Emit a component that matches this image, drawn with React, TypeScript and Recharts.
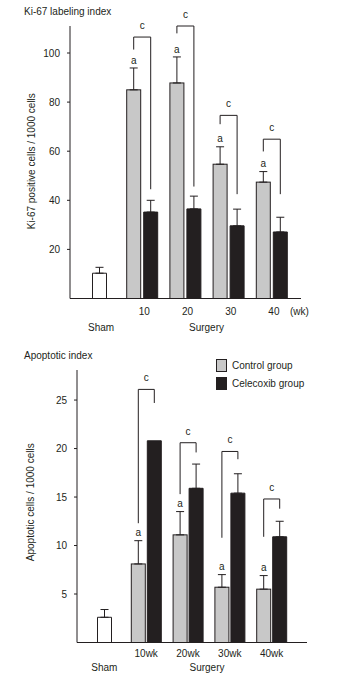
import React from "react";
import { BarChart, Bar, XAxis, YAxis, ErrorBar, Legend } from "recharts";

const FONT = "'Liberation Sans', Arial, sans-serif";
const INK = "#231f20";
const GREY = "#c8c8c8";

const groups = ["Sham", "10", "20", "30", "40"];
const legendOrder = ["Control group", "Celecoxib group"];

// Ki-67 labeling index (positive cells / 1000 cells)
const kiSham = [10.3, null, null, null, null];
const kiShamSd = [2.4, null, null, null, null];
const kiControl = [null, 85, 87.8, 54.7, 47.4];
const kiControlSd = [null, 8.9, 10.6, 7.1, 4.3];
const kiCelecoxib = [null, 35.2, 36.5, 29.6, 27.1];
const kiCelecoxibSd = [null, 4.8, 5.2, 6.8, 6.0];
// "c" brackets: top, end of left leg, end of right leg
const kiBracketTop = [null, 106.5, 111, 74.6, 64.9];
const kiBracketLeft = [null, 101.4, 108, 71, 59.9];
const kiBracketRight = [null, 44.5, 45.6, 42.5, 42.5];
const kiTicks = [20, 40, 60, 80, 100];

// Apoptotic index (apoptotic cells / 1000 cells)
const apSham = [2.6, null, null, null, null];
const apShamSd = [0.8, null, null, null, null];
const apControl = [null, 8.1, 11.1, 5.7, 5.5];
const apControlSd = [null, 2.4, 2.4, 1.3, 1.4];
const apCelecoxib = [null, 20.8, 15.9, 15.4, 10.9];
const apCelecoxibSd = [null, null, 2.5, 2.0, 1.6];
const apBracketTop = [null, 26.1, 20.6, 19.7, 14.8];
const apBracketLeft = [null, 12.3, 15.3, 10.8, 10.9];
const apBracketRight = [null, 24.7, 19.6, 18.9, 13.8];
const apTicks = [5, 10, 15, 20, 25];

type Num = number | null;

function upOnly(sd: Num) {
  // error bars only go up from the bar top
  return sd == null ? null : [0, sd];
}

function buildRows(
  sham: Num[], shamSd: Num[], control: Num[], controlSd: Num[],
  cel: Num[], celSd: Num[], top: Num[], left: Num[], right: Num[],
) {
  return groups.map((group, i) => ({
    group,
    sham: sham[i],
    shamErr: upOnly(shamSd[i]),
    control: control[i],
    controlErr: upOnly(controlSd[i]),
    celecoxib: cel[i],
    celecoxibErr: upOnly(celSd[i]),
    bracket: top[i] == null ? null : { top: top[i], left: left[i], right: right[i] },
  }));
}

const kiRows = buildRows(kiSham, kiShamSd, kiControl, kiControlSd, kiCelecoxib, kiCelecoxibSd,
  kiBracketTop, kiBracketLeft, kiBracketRight);
const apRows = buildRows(apSham, apShamSd, apControl, apControlSd, apCelecoxib, apCelecoxibSd,
  apBracketTop, apBracketLeft, apBracketRight);

const textStyle = { fontFamily: FONT, fontSize: 10, fill: INK };

// grey bar + "a" mark + "c" bracket over to the celecoxib bar
function ControlShape(props: any) {
  const { x, y, width, height, payload, gap } = props;
  if (!payload || payload.control == null || !height) return null;
  const v = payload.control;
  const k = height / v;
  const yOf = (val: number) => y + height - val * k;
  const cx = x + width / 2;
  const cx2 = cx + width + gap;
  const errTop = yOf(v + (payload.controlErr ? payload.controlErr[1] : 0));
  const b = payload.bracket;
  return (
    <g>
      <rect x={x} y={y} width={width} height={height} fill={GREY} stroke={INK} strokeWidth={1} />
      <text x={cx} y={errTop - 4.4} textAnchor="middle" {...textStyle}>a</text>
      {b && (
        <g>
          <path d={`M${cx},${yOf(b.left)}V${yOf(b.top)}H${cx2}V${yOf(b.right)}`}
            fill="none" stroke={INK} strokeWidth={1} />
          <text x={(cx + cx2) / 2} y={yOf(b.top) - 8} textAnchor="middle" {...textStyle}>c</text>
        </g>
      )}
    </g>
  );
}

function GroupTick(props: any) {
  const { x, y, payload, spec } = props;
  const v = String(payload.value);
  const common = { ...textStyle, dominantBaseline: "central" as const };
  if (v === "Sham") {
    return <text x={x + spec.tickDx} y={y + spec.line2} textAnchor="middle" {...common}>Sham</text>;
  }
  return (
    <g>
      <text x={x + spec.tickDx} y={y + spec.line1} textAnchor="middle" {...common}>{v + spec.unit}</text>
      {v === "20" && (
        <text x={x + spec.surgeryDx} y={y + spec.line2} textAnchor="middle" {...common}>Surgery</text>
      )}
      {spec.wk && v === "40" && (
        <text x={x + spec.tickDx + 16} y={y + spec.line1} textAnchor="start" {...common}>(wk)</text>
      )}
    </g>
  );
}

function SideTitle(props: any) {
  const vb = props.viewBox ?? props;
  const cx = props.cx;
  const cy = vb.y + vb.height / 2 + (props.shift ?? 0);
  return (
    <text x={cx} y={cy} transform={`rotate(-90 ${cx} ${cy})`} textAnchor="middle"
      dominantBaseline="central" {...textStyle}>
      {props.value}
    </text>
  );
}

function GroupLegend({ payload }: any) {
  const items = (payload ?? [])
    .filter((p: any) => legendOrder.includes(p.value))
    .sort((a: any, b: any) => legendOrder.indexOf(a.value) - legendOrder.indexOf(b.value));
  return (
    <div style={{ fontFamily: FONT, fontSize: 10, color: INK }}>
      {items.map((item: any) => (
        <div key={item.value} style={{ display: "flex", alignItems: "center", height: 18 }}>
          <span style={{
            display: "inline-block", width: 11, height: 12.5, boxSizing: "border-box",
            border: `1px solid ${INK}`, background: item.color, marginRight: 5,
          }} />
          <span>{item.value}</span>
        </div>
      ))}
    </div>
  );
}

function GroupChart({ spec }: { spec: any }) {
  return (
    <BarChart
      width={352}
      height={spec.height}
      data={spec.rows}
      margin={{ top: spec.top, right: spec.right, left: 0, bottom: 1.5 }}
      barGap={spec.barGap}
    >
      <XAxis
        dataKey="group"
        height={40}
        interval={0}
        padding={spec.padding}
        tickSize={0}
        tickMargin={0}
        tickLine={false}
        axisLine={{ stroke: INK }}
        tick={(p: any) => <GroupTick {...p} spec={spec} />}
      />
      <XAxis xAxisId="sham" dataKey="group" hide padding={spec.padding} />
      <YAxis
        domain={[0, spec.yMax]}
        ticks={spec.ticks}
        width={spec.axisWidth}
        tickSize={3}
        tickMargin={7}
        axisLine={{ stroke: INK }}
        tickLine={{ stroke: INK }}
        tick={textStyle}
        label={{
          value: spec.yTitle,
          content: (p: any) => <SideTitle {...p} value={spec.yTitle} cx={spec.yTitleX} shift={spec.yTitleShift} />,
        }}
      />
      {spec.legend && (
        <Legend
          verticalAlign="middle"
          layout="horizontal"
          wrapperStyle={{ left: 216, top: 16.5, width: 130 }}
          content={(p: any) => <GroupLegend payload={p.payload} />}
        />
      )}
      <Bar xAxisId="sham" dataKey="sham" name="Sham" legendType="none" barSize={spec.barSize}
        fill="#ffffff" stroke={INK} strokeWidth={1} isAnimationActive={false}>
        <ErrorBar dataKey="shamErr" width={4} stroke={INK} strokeWidth={1} direction="y" isAnimationActive={false} />
      </Bar>
      <Bar dataKey="control" name="Control group" barSize={spec.barSize} fill={GREY} stroke={INK}
        strokeWidth={1} isAnimationActive={false}
        shape={(p: any) => <ControlShape {...p} gap={spec.barGap} />}>
        <ErrorBar dataKey="controlErr" width={4} stroke={INK} strokeWidth={1} direction="y" isAnimationActive={false} />
      </Bar>
      <Bar dataKey="celecoxib" name="Celecoxib group" barSize={spec.barSize} fill={INK} stroke={INK}
        strokeWidth={1} isAnimationActive={false}>
        <ErrorBar dataKey="celecoxibErr" width={4} stroke={INK} strokeWidth={1} direction="y" isAnimationActive={false} />
      </Bar>
    </BarChart>
  );
}

const kiSpec = {
  rows: kiRows, height: 340, top: 26, right: 51, axisWidth: 70, yMax: 111, ticks: kiTicks,
  padding: { left: 7.5, right: 7.5 }, barSize: 14, barGap: 3,
  yTitle: "Ki-67 positive cells / 1000 cells", yTitleX: 31, yTitleShift: -1,
  tickDx: 2, line1: 13.2, line2: 29.2, surgeryDx: 21, unit: "", wk: true, legend: false,
};

const apSpec = {
  rows: apRows, height: 344, top: 30, right: 45, axisWidth: 77, yMax: 28.1, ticks: apTicks,
  padding: { left: 6.5, right: 14.5 }, barSize: 14, barGap: 2,
  yTitle: "Apoptotic cells / 1000 cells", yTitleX: 30, yTitleShift: -4,
  tickDx: 0, line1: 10.8, line2: 25.2, surgeryDx: 19, unit: "wk", wk: false, legend: true,
};

export default function App() {
  return (
    <div style={{
      position: "absolute", left: 0, top: 0, width: 352, height: 684,
      background: "#ffffff", fontFamily: FONT, color: INK,
    }}>
      <div style={{ position: "absolute", left: 0, top: 0 }}>
        <GroupChart spec={kiSpec} />
      </div>
      <div style={{ position: "absolute", left: 0, top: 340 }}>
        <GroupChart spec={apSpec} />
      </div>
      <div style={{ position: "absolute", left: 24, top: 6, fontSize: 10, lineHeight: "12px" }}>
        Ki-67 labeling index
      </div>
      <div style={{ position: "absolute", left: 24, top: 349.7, fontSize: 10, lineHeight: "12px" }}>
        Apoptotic index
      </div>
    </div>
  );
}
